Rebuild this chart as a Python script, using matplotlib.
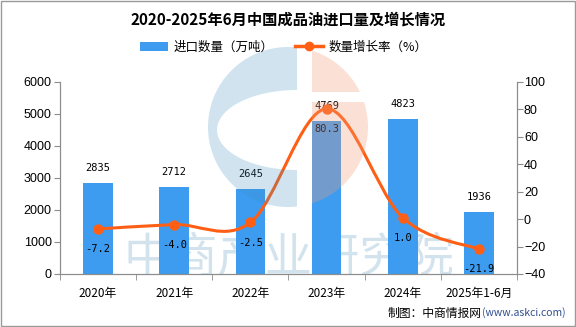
import matplotlib.pyplot as plt
import matplotlib.transforms as mtransforms
import numpy as np
from matplotlib.path import Path
from matplotlib.patches import PathPatch, Polygon

plt.rcParams['font.family'] = ['Noto Sans CJK SC', 'DejaVu Sans']

categories = ["2020年", "2021年", "2022年", "2023年", "2024年", "2025年1-6月"]
imports = [2835, 2712, 2645, 4769, 4823, 1936]
growth = [-7.2, -4.0, -2.5, 80.3, 1.0, -21.9]

BAR_COLOR = "#3d9cf0"
LINE_COLOR = "#ff5f14"
AXIS_COLOR = "#8c8c8c"
NUM_FONT = "DejaVu Sans Mono"


def smooth_path(xs, ys, k=1 / 6):
    # Catmull-Rom style bezier through the data points
    verts = [(xs[0], ys[0])]
    codes = [Path.MOVETO]
    n = len(xs)
    for i in range(n - 1):
        x0, y0 = xs[max(i - 1, 0)], ys[max(i - 1, 0)]
        x1, y1 = xs[i], ys[i]
        x2, y2 = xs[i + 1], ys[i + 1]
        x3, y3 = xs[min(i + 2, n - 1)], ys[min(i + 2, n - 1)]
        c1 = (x1 + (x2 - x0) * k, y1 + (y2 - y0) * k)
        c2 = (x2 - (x3 - x1) * k, y2 - (y3 - y1) * k)
        verts += [c1, c2, (x2, y2)]
        codes += [Path.CURVE4] * 3
    return Path(verts, codes)


def arc(cx, cy, r, a0, a1, n=60):
    t = np.radians(np.linspace(a0, a1, n))
    return np.column_stack([cx + r * np.cos(t), cy - r * np.sin(t)])


def add_logo(fig):
    # logo drawn in pixel coordinates (y downwards), semi-transparent overlay
    px = mtransforms.Affine2D().scale(1 / 100, -1 / 100).translate(0, 3.27) + fig.dpi_scale_trans
    cx, cy, r = 288, 127, 80
    t0 = np.degrees(np.arccos(9 / r))
    outer = arc(cx, cy, r, t0, 360 - t0)
    phi = np.radians(np.linspace(270, 90, 60))
    inner = np.column_stack([297 + 80 * np.cos(phi), 130 - 40 * np.sin(phi)])
    fig.patches.append(Polygon(np.vstack([outer, inner]), closed=True, transform=px,
                               facecolor="#3c8cbe", alpha=0.24, edgecolor="none", zorder=5))
    t1 = np.degrees(np.arccos(24 / r))
    a92 = np.degrees(np.arcsin((cy - 92) / r))
    a102 = np.degrees(np.arcsin((cy - 102) / r))
    top = np.vstack([arc(cx, cy, r, t1, a92), [[312, 92]]])
    bottom = np.vstack([arc(cx, cy, r, a102, -t1), [[312, 102]]])
    for pts in (top, bottom):
        fig.patches.append(Polygon(pts, closed=True, transform=px, facecolor="#f19b76",
                                   alpha=0.3, edgecolor="none", zorder=5))


fig = plt.figure(figsize=(5.76, 3.27), dpi=100)
ax = fig.add_axes([60 / 576, 1 - 274 / 327, 457 / 576, 192.3 / 327])
ax2 = ax.twinx()

# watermark text sits behind the bars, clipped to the plot area
ax.text(289 / 576, 1 - 259 / 327, "中商产业研究院", transform=fig.transFigure, fontsize=34,
        color="#d2e3ee", ha="center", va="center", zorder=1, clip_on=True)

x = np.arange(len(categories))
bars = ax.bar(x, imports, width=0.39, color=BAR_COLOR, zorder=2, label="进口数量（万吨）")
for xi, v in zip(x, imports):
    ax.text(xi, v + 480, f"{v}", ha="center", va="center", fontsize=7.5, family=NUM_FONT)

ax.set_xlim(-0.5, len(categories) - 0.5)
ax.set_ylim(0, 6000)
ax.set_yticks(range(0, 6001, 1000))
ax.set_xticks(x)
ax.set_xticklabels(categories, fontsize=8.5)
ax.set_xticks(np.arange(-0.5, len(categories)), minor=True)
ax.tick_params(axis="x", which="major", length=0, pad=9)
ax.tick_params(axis="x", which="minor", length=4.5, color=AXIS_COLOR)
ax.tick_params(axis="y", labelsize=9, color=AXIS_COLOR, length=4, pad=2)
for lab in ax.get_yticklabels():
    lab.set_family("Liberation Sans")

ax2.set_ylim(-40, 100)
ax2.set_yticks(range(-40, 101, 20))
ax2.tick_params(axis="y", labelsize=9, color=AXIS_COLOR, length=4, pad=1)
for lab in ax2.get_yticklabels():
    lab.set_family("Liberation Sans")

for a in (ax, ax2):
    a.spines["top"].set_visible(False)
    for s in ("left", "right", "bottom"):
        a.spines[s].set_color(AXIS_COLOR)
    a.patch.set_visible(False)

ax2.add_patch(PathPatch(smooth_path(list(x), growth), fill=False,
                        edgecolor=LINE_COLOR, lw=2.2, zorder=3))
ax2.plot(x, growth, "o", color=LINE_COLOR, ms=6.5, zorder=4)
for xi, g in zip(x, growth):
    ax2.text(xi, g - 14.6, f"{g:.1f}", ha="center", va="center", fontsize=7.5,
             family=NUM_FONT, zorder=5)

# legend
line_handle, = ax2.plot([], [], "-o", color=LINE_COLOR, lw=2.5, ms=6,
                        label="数量增长率（%）")
fig.legend(handles=[bars, line_handle], loc="center", bbox_to_anchor=(284 / 576, 1 - 47 / 327),
           ncol=2, frameon=False, fontsize=9, handlelength=2.2, handletextpad=0.5,
           columnspacing=1.7)

fig.text(0.5, 1 - 20 / 327, "2020-2025年6月中国成品油进口量及增长情况", ha="center",
         va="center", fontsize=11, fontweight="bold")
fig.text(482 / 576, 1 - 313 / 327, "制图：中商情报网", ha="right", va="center", fontsize=8.5)
fig.text(482 / 576, 1 - 313 / 327, "(www.askci.com)", ha="left", va="center", fontsize=7.5,
         color="#2f4f8f")

add_logo(fig)

# outer border
fig.patches.append(plt.Rectangle((0.002, 0.003), 0.996, 0.994, transform=fig.transFigure,
                                 fill=False, edgecolor="#9a9a9a", lw=1))

fig.savefig("out.png", dpi=100)
